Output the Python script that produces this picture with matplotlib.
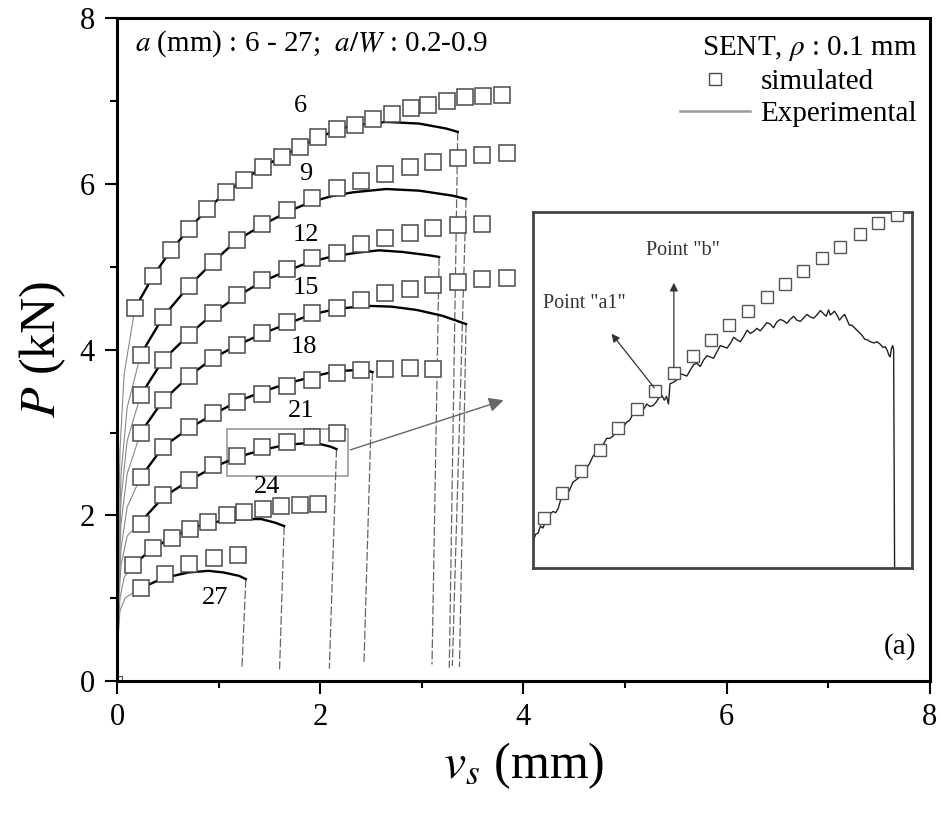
import matplotlib
matplotlib.use("Agg")
import matplotlib.pyplot as plt
from matplotlib.lines import Line2D
from matplotlib.patches import Rectangle, FancyArrowPatch

plt.rcParams['font.family'] = ['Liberation Serif', 'DejaVu Serif']
plt.rcParams['mathtext.fontset'] = 'stix'

# crack length a (mm) for each specimen
crack_len = [6, 9, 12, 15, 18, 21, 24, 27]

# simulated load-displacement points (vs in mm, P in kN)
grid = [0.233, 0.456, 0.709, 0.948, 1.178, 1.424, 1.670, 1.916, 2.162, 2.402,
        2.638, 2.879, 3.113, 3.356, 3.596, 3.834]

sim_x = {
    6: [0.177, 0.357, 0.531, 0.712, 0.889, 1.073, 1.250, 1.440, 1.621, 1.801, 1.982,
        2.168, 2.343, 2.523, 2.704, 2.891, 3.064, 3.245, 3.425, 3.605, 3.786],
    9: grid,
    12: grid[:15],
    15: grid,
    18: grid[:13],
    21: grid[:9],
    24: [0.160, 0.351, 0.538, 0.714, 0.891, 1.080, 1.252, 1.434, 1.617, 1.798, 1.978],
    27: [0.233, 0.472, 0.712, 0.955, 1.194],
}
sim_y = {
    6: [4.50, 4.89, 5.20, 5.46, 5.70, 5.90, 6.05, 6.21, 6.33, 6.45, 6.57,
        6.66, 6.71, 6.78, 6.85, 6.92, 6.96, 7.00, 7.05, 7.06, 7.07],
    9: [3.94, 4.40, 4.77, 5.06, 5.33, 5.52, 5.69, 5.83, 5.95, 6.04, 6.12,
        6.20, 6.27, 6.31, 6.35, 6.38],
    12: [3.45, 3.88, 4.18, 4.44, 4.66, 4.84, 4.97, 5.11, 5.17, 5.28, 5.35,
         5.41, 5.47, 5.50, 5.52],
    15: [3.00, 3.39, 3.68, 3.90, 4.06, 4.20, 4.34, 4.44, 4.50, 4.60, 4.68,
         4.73, 4.78, 4.82, 4.85, 4.86],
    18: [2.46, 2.83, 3.07, 3.23, 3.37, 3.47, 3.56, 3.64, 3.72, 3.76, 3.77, 3.78, 3.77],
    21: [1.90, 2.25, 2.43, 2.61, 2.72, 2.82, 2.89, 2.95, 2.99],
    24: [1.40, 1.60, 1.73, 1.84, 1.92, 2.00, 2.04, 2.08, 2.11, 2.13, 2.14],
    27: [1.12, 1.29, 1.41, 1.48, 1.52],
}

# experimental curves up to fracture (first 5 points = steep initial loading)
exp_x = {
    6: [0, 0.01, 0.03, 0.07, 0.177, 0.357, 0.531, 0.712, 0.889, 1.073, 1.25, 1.44,
        1.62, 1.80, 1.98, 2.16, 2.32, 2.65, 2.975, 3.24, 3.353],
    9: [0, 0.01, 0.04, 0.10, 0.233, 0.456, 0.709, 0.948, 1.178, 1.424, 1.67, 1.9,
        2.1, 2.32, 2.65, 2.975, 3.30, 3.435],
    12: [0, 0.01, 0.04, 0.10, 0.233, 0.456, 0.709, 0.948, 1.178, 1.424, 1.67, 1.9,
         2.1, 2.35, 2.58, 2.81, 3.07, 3.17],
    15: [0, 0.01, 0.04, 0.10, 0.233, 0.456, 0.709, 0.948, 1.178, 1.424, 1.67, 1.9,
         2.15, 2.45, 2.70, 2.95, 3.20, 3.435],
    18: [0, 0.01, 0.04, 0.10, 0.233, 0.456, 0.709, 0.948, 1.178, 1.424, 1.67, 1.91,
         2.15, 2.37, 2.45, 2.515],
    21: [0, 0.01, 0.04, 0.10, 0.233, 0.456, 0.709, 0.948, 1.178, 1.43, 1.66, 1.85,
         2.0, 2.1, 2.16],
    24: [0, 0.01, 0.03, 0.07, 0.160, 0.351, 0.538, 0.714, 0.891, 1.07, 1.25, 1.42,
         1.56, 1.645],
    27: [0, 0.01, 0.03, 0.08, 0.20, 0.45, 0.70, 0.90, 1.05, 1.20, 1.268],
}
exp_y = {
    6: [0, 1.5, 2.8, 3.7, 4.50, 4.89, 5.20, 5.46, 5.70, 5.90, 6.05, 6.21,
        6.33, 6.45, 6.56, 6.65, 6.71, 6.75, 6.73, 6.67, 6.63],
    9: [0, 1.2, 2.5, 3.3, 3.94, 4.40, 4.77, 5.06, 5.32, 5.50, 5.66, 5.78,
        5.85, 5.90, 5.94, 5.92, 5.86, 5.82],
    12: [0, 1.1, 2.2, 2.9, 3.45, 3.88, 4.18, 4.44, 4.64, 4.82, 4.95, 5.06,
         5.12, 5.17, 5.20, 5.18, 5.14, 5.12],
    15: [0, 1.0, 1.9, 2.5, 3.00, 3.39, 3.68, 3.90, 4.05, 4.19, 4.31, 4.42,
         4.49, 4.53, 4.52, 4.48, 4.41, 4.31],
    18: [0, 0.9, 1.6, 2.1, 2.46, 2.83, 3.05, 3.22, 3.37, 3.49, 3.59, 3.67,
         3.74, 3.755, 3.75, 3.73],
    21: [0, 0.8, 1.4, 1.75, 1.92, 2.22, 2.42, 2.58, 2.70, 2.79, 2.85, 2.87,
         2.86, 2.83, 2.80],
    24: [0, 0.6, 1.0, 1.25, 1.40, 1.60, 1.73, 1.84, 1.90, 1.94, 1.955, 1.955,
         1.91, 1.87],
    27: [0, 0.5, 0.85, 1.0, 1.10, 1.24, 1.31, 1.33, 1.31, 1.27, 1.23],
}

# post-fracture unloading: (start vs, start P, end vs, end P)
drops = {
    6: (3.353, 6.63, 3.27, 0.16),
    9: (3.435, 5.82, 3.30, 0.18),
    12: (3.17, 5.12, 3.10, 0.20),
    15: (3.435, 4.31, 3.37, 0.17),
    18: (2.515, 3.73, 2.43, 0.20),
    21: (2.16, 2.80, 2.09, 0.15),
    24: (1.645, 1.87, 1.60, 0.14),
    27: (1.268, 1.23, 1.23, 0.16),
}

label_pos = {6: (1.81, 6.94), 9: (1.86, 6.12), 12: (1.86, 5.38), 15: (1.86, 4.75),
             18: (1.84, 4.03), 21: (1.81, 3.26), 24: (1.48, 2.34), 27: (0.97, 1.0)}

# zoomed detail of the a = 21 mm specimen
zoom_sim_x = [1.114, 1.172, 1.232, 1.290, 1.347, 1.405, 1.463, 1.522, 1.581, 1.639,
              1.696, 1.756, 1.814, 1.872, 1.929, 1.988, 2.045, 2.105, 2.162, 2.221]
zoom_sim_y = [2.559, 2.598, 2.632, 2.666, 2.700, 2.730, 2.759, 2.787, 2.813, 2.839,
              2.862, 2.885, 2.906, 2.927, 2.948, 2.967, 2.985, 3.005, 3.022, 3.035]
zoom_exp_x = [1.080, 1.088, 1.096, 1.103, 1.111, 1.119, 1.127, 1.135, 1.143, 1.151, 1.159,
              1.167, 1.174, 1.185, 1.195, 1.205, 1.216, 1.226, 1.237, 1.247, 1.258, 1.268,
              1.279, 1.290, 1.300, 1.311, 1.321, 1.332, 1.342, 1.352, 1.363, 1.373, 1.384,
              1.395, 1.405, 1.416, 1.426, 1.437, 1.447, 1.458, 1.468, 1.476, 1.484, 1.492,
              1.499, 1.505, 1.510, 1.520, 1.531, 1.541, 1.552, 1.563, 1.573, 1.584, 1.594,
              1.605, 1.615, 1.626, 1.636, 1.647, 1.657, 1.668, 1.678, 1.689, 1.699, 1.710,
              1.720, 1.731, 1.741, 1.752, 1.762, 1.772, 1.783, 1.793, 1.803, 1.814, 1.824,
              1.835, 1.845, 1.856, 1.866, 1.877, 1.887, 1.898, 1.908, 1.919, 1.929, 1.940,
              1.950, 1.961, 1.971, 1.982, 1.992, 2.000, 2.008, 2.013, 2.018, 2.026, 2.034,
              2.042, 2.050, 2.058, 2.066, 2.073, 2.081, 2.089, 2.097, 2.105, 2.113, 2.121,
              2.129, 2.139, 2.150, 2.160, 2.170, 2.178, 2.186, 2.192, 2.197, 2.201, 2.205,
              2.209, 2.212, 2.215]
zoom_exp_y = [2.522, 2.533, 2.535, 2.546, 2.543, 2.553, 2.556, 2.566, 2.569, 2.567, 2.574,
              2.588, 2.593, 2.596, 2.603, 2.615, 2.619, 2.623, 2.637, 2.636, 2.645, 2.656,
              2.661, 2.663, 2.674, 2.684, 2.684, 2.688, 2.697, 2.707, 2.702, 2.709, 2.713,
              2.724, 2.721, 2.722, 2.729, 2.738, 2.734, 2.736, 2.742, 2.749, 2.752, 2.744,
              2.750, 2.738, 2.770, 2.772, 2.776, 2.786, 2.784, 2.782, 2.791, 2.800, 2.802,
              2.797, 2.807, 2.814, 2.812, 2.810, 2.820, 2.830, 2.828, 2.826, 2.833, 2.843,
              2.839, 2.836, 2.844, 2.854, 2.849, 2.852, 2.857, 2.853, 2.859, 2.866, 2.864,
              2.858, 2.867, 2.871, 2.869, 2.865, 2.871, 2.876, 2.870, 2.868, 2.873, 2.879,
              2.875, 2.873, 2.878, 2.885, 2.880, 2.876, 2.886, 2.878, 2.880, 2.884, 2.878,
              2.870, 2.875, 2.879, 2.870, 2.862, 2.862, 2.858, 2.854, 2.850, 2.846, 2.840,
              2.839, 2.836, 2.834, 2.836, 2.832, 2.827, 2.828, 2.822, 2.815, 2.812, 2.825,
              2.830, 2.823, 2.480]

fig = plt.figure(figsize=(9.41, 8.18), dpi=100)
ax = fig.add_axes([0.1243, 0.1675, 0.8640, 0.8100])

sq = dict(marker='s', ls='none', ms=11.5, mfc='white', mec='#4a4a4a', mew=1.1)

for a in crack_len:
    ex, ey = exp_x[a], exp_y[a]
    ax.plot(ex[:5], ey[:5], color='#888888', lw=0.8, zorder=2)
    ax.plot(ex[4:], ey[4:], color='black', lw=1.7, zorder=3)
    x0, y0, x1, y1 = drops[a]
    ax.plot([x0, x1], [y0, y1], color='#666666', lw=0.9, ls=(0, (7, 2)), zorder=2)
    ax.plot(sim_x[a], sim_y[a], zorder=4, **sq)
    lx, ly = label_pos[a]
    ax.text(lx, ly, str(a), fontsize=19, ha='center', va='center', zorder=5)

ax.plot([0.02], [0.03], marker='s', ms=5, mfc='white', mec='#4a4a4a', mew=0.8)

# frame marking the zoomed region and pointer to the inset
ax.add_patch(Rectangle((1.08, 2.48), 1.19, 0.56, fill=False, ec='#999999', lw=1.2))
ax.add_patch(FancyArrowPatch((2.27, 2.78), (3.83, 3.40), arrowstyle='-|>',
                             mutation_scale=22, color='#666666', lw=1.0))

ax.set_xlim(0, 8)
ax.set_ylim(0, 8)
ax.set_xticks([0, 2, 4, 6, 8])
ax.set_yticks([0, 2, 4, 6, 8])
ax.set_xticks([1, 3, 5, 7], minor=True)
ax.set_yticks([1, 3, 5, 7], minor=True)
ax.tick_params(which='major', direction='out', length=9, width=1.5, labelsize=22, pad=7)
ax.tick_params(which='minor', direction='out', length=5, width=1.5)
for s in ax.spines.values():
    s.set_linewidth(2.2)

ax.set_xlabel('$v_s$ (mm)', fontsize=36, labelpad=6)
ax.set_ylabel('$P$ (kN)', fontsize=36, labelpad=8)

ax.text(0.022, 0.985, '$a$ (mm) : 6 - 27;  $a/W$ : 0.2-0.9', transform=ax.transAxes,
        fontsize=21, ha='left', va='top')
ax.text(0.983, 0.052, '(a)', transform=ax.transAxes, fontsize=21, ha='right', va='center')

handles = [Line2D([], [], marker='s', ls='none', ms=8, mfc='white', mec='#4a4a4a', mew=1.0),
           Line2D([], [], color='#9a9a9a', lw=1.8)]
leg = ax.legend(handles, ['simulated', 'Experimental'], title='SENT, $\\rho$ : 0.1 mm',
                loc='upper right', bbox_to_anchor=(1.009, 1.008), frameon=False,
                fontsize=21, title_fontsize=21, alignment='right',
                handlelength=2.4, handletextpad=0.35, labelspacing=0.2, borderpad=0.2)

# inset: detail of the a = 21 mm curve
ins = fig.add_axes([0.5665, 0.3056, 0.4028, 0.4352])
ins.plot(zoom_exp_x, zoom_exp_y, color='#222222', lw=1.0, zorder=2)
ins.plot(zoom_sim_x, zoom_sim_y, marker='s', ls='none', ms=9, mfc='white',
         mec='#555555', mew=1.0, zorder=3)
ins.set_xlim(1.08, 2.27)
ins.set_ylim(2.48, 3.04)
ins.set_xticks([])
ins.set_yticks([])
for s in ins.spines.values():
    s.set_linewidth(2.0)
    s.set_color('#444444')
ins.annotate('', xy=(1.321, 2.852), xytext=(1.466, 2.760),
             arrowprops=dict(arrowstyle='-|>', color='#333333', lw=0.9, mutation_scale=12))
ins.annotate('', xy=(1.522, 2.933), xytext=(1.522, 2.791),
             arrowprops=dict(arrowstyle='-|>', color='#333333', lw=0.9, mutation_scale=12))
ins.text(1.111, 2.896, 'Point "a1"', fontsize=14.5, ha='left', va='center', color='#333333')
ins.text(1.436, 2.980, 'Point "b"', fontsize=14.5, ha='left', va='center', color='#333333')

fig.savefig('out.png', dpi=100)
